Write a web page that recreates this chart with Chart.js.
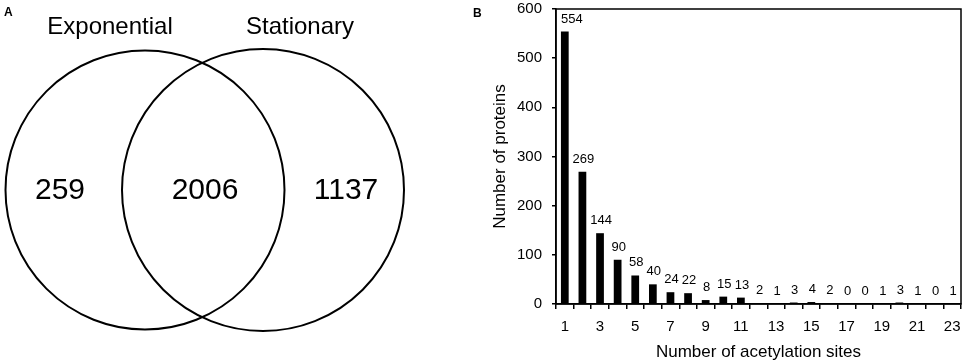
<!DOCTYPE html>
<html>
<head>
<meta charset="utf-8">
<script src="https://cdn.jsdelivr.net/npm/chart.js@4"></script>
<style>
  body { margin: 0; background: #fff; }
  #wrap { position: relative; width: 964px; height: 364px; }
  #venn { position: absolute; left: 0; top: 0; }
  #sitios { position: absolute; left: 470px; top: 0; }
</style>
</head>
<body>
<div id="wrap">
  <canvas id="venn" width="470" height="364"></canvas>
  <canvas id="sitios" width="494" height="364"></canvas>
</div>
<script>
// datos del diagrama de Venn
const vennSets = ['Exponential', 'Stationary']
const vennCounts = [259, 2006, 1137]   // solo exp, ambos, solo stat

// datos del histograma
const sites = ['1','2','3','4','5','6','7','8','9','10','11','12','13','14','15','16','17','18','19','20','21','22','23']
const proteins = [554, 269, 144, 90, 58, 40, 24, 22, 8, 15, 13, 2, 1, 3, 4, 2, 0, 0, 1, 3, 1, 0, 1]
const yTicks = [0, 100, 200, 300, 400, 500, 600]

const FONT = "'Liberation Sans', Arial, sans-serif"
Chart.defaults.font.family = FONT
Chart.defaults.color = '#000'
Chart.defaults.animation = false

// ---------- panel A: Venn ----------
const vennTexto = {
    id: 'vennTexto',
    afterDatasetsDraw(chart) {
        const ctx = chart.ctx
        const x = chart.scales.x, y = chart.scales.y
        ctx.save()
        ctx.fillStyle = '#000'
        ctx.textAlign = 'center'
        ctx.textBaseline = 'alphabetic'
        ctx.font = '24px ' + FONT
        ctx.fillText(vennSets[0], x.getPixelForValue(110), y.getPixelForValue(34))
        ctx.fillText(vennSets[1], x.getPixelForValue(300), y.getPixelForValue(34))
        ctx.textBaseline = 'middle'
        ctx.font = '30px ' + FONT
        const cx = [60, 205, 346]
        vennCounts.forEach((v, i) => {
            ctx.fillText(String(v), x.getPixelForValue(cx[i]), y.getPixelForValue(191))
        })
        ctx.font = 'bold 12px ' + FONT
        ctx.textAlign = 'left'
        ctx.fillText('A', 4, 13)
        ctx.restore()
    }
}

new Chart(document.getElementById('venn').getContext('2d'), {
    type: 'bubble',
    data: {
        datasets: [{
            data: [{ x: 145, y: 190, r: 139.5 }, { x: 263, y: 190, r: 141 }],
            backgroundColor: 'rgba(0,0,0,0)',
            borderColor: '#000',
            borderWidth: 2,
            hoverRadius: 0,
            clip: false
        }]
    },
    options: {
        responsive: false,
        events: [],
        layout: { padding: 0, autoPadding: false },
        scales: {
            x: { type: 'linear', min: 0, max: 470, display: false },
            y: { type: 'linear', min: 0, max: 364, reverse: true, display: false }
        },
        plugins: { legend: { display: false }, tooltip: { enabled: false } }
    },
    plugins: [vennTexto]
})

// ---------- panel B: barras ----------
const etiquetas = {
    id: 'etiquetas',
    afterDatasetsDraw(chart) {
        const ctx = chart.ctx
        const a = chart.chartArea
        ctx.save()
        // caja completa
        ctx.strokeStyle = '#000'
        ctx.lineWidth = 1.5
        ctx.strokeRect(a.left, a.top, a.right - a.left, a.bottom - a.top)
        // valores sobre las barras
        ctx.fillStyle = '#000'
        ctx.font = '13px ' + FONT
        ctx.textAlign = 'center'
        ctx.textBaseline = 'alphabetic'
        chart.getDatasetMeta(0).data.forEach((bar, i) => {
            const txt = String(proteins[i])
            const w = ctx.measureText(txt).width
            const px = Math.max(bar.x + 1, a.left + 5 + w / 2)
            ctx.fillText(txt, px, bar.y - 9)
        })
        ctx.font = 'bold 12px ' + FONT
        ctx.textAlign = 'left'
        ctx.fillText('B', 3, 17)
        ctx.restore()
    }
}

new Chart(document.getElementById('sitios').getContext('2d'), {
    type: 'bar',
    data: {
        labels: sites,
        datasets: [{
            data: proteins,
            backgroundColor: '#000',
            borderWidth: 0,
            barPercentage: 0.44,
            categoryPercentage: 1.0
        }]
    },
    options: {
        responsive: false,
        events: [],
        layout: { padding: { top: 9, right: 3, left: 0, bottom: 0 }, autoPadding: false },
        scales: {
            x: {
                grid: { drawOnChartArea: false, tickLength: 5, color: '#000', lineWidth: 1.5, offset: true },
                border: { color: '#000', width: 1.5 },
                ticks: {
                    autoSkip: false, maxRotation: 0, padding: 9,
                    font: { size: 15 },
                    callback: (v, i) => (i % 2 === 0 ? sites[i] : '')
                },
                title: { display: true, text: 'Number of acetylation sites', font: { size: 17 }, padding: { top: 0, bottom: 1 } },
                afterFit: (s) => { s.height = 60; s.paddingLeft = 0; s.paddingRight = 0 }
            },
            y: {
                min: 0, max: 600,
                afterBuildTicks: (s) => { s.ticks = yTicks.map(v => ({ value: v })) },
                grid: { drawOnChartArea: false, tickLength: 4, color: '#000', lineWidth: 1.5 },
                border: { color: '#000', width: 1.5 },
                ticks: { font: { size: 15 }, padding: 10 },
                title: { display: true, text: 'Number of proteins', font: { size: 17 }, padding: { top: 20, bottom: 0 } },
                afterFit: (s) => { s.width = 86; s.paddingTop = 0; s.paddingBottom = 0 }
            }
        },
        plugins: { legend: { display: false }, tooltip: { enabled: false } }
    },
    plugins: [etiquetas]
})
</script>
</body>
</html>
